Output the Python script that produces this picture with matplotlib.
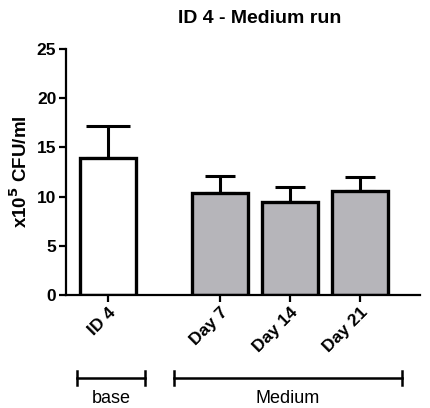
import matplotlib
matplotlib.use("Agg")
import matplotlib.pyplot as plt

categories = ["ID 4", "Day 7", "Day 14", "Day 21"]
means = [13.9, 10.4, 9.4, 10.6]
errors = [3.3, 1.7, 1.6, 1.4]
groups = ["base", "Medium"]
title = "ID 4 - Medium run"
ylabel = "x10$^\\mathbf{5}$ CFU/ml"
yticks = [0, 5, 10, 15, 20, 25]

positions = [0, 1.6, 2.6, 3.6]
colors = ["white", "#b6b5ba", "#b6b5ba", "#b6b5ba"]
capsizes = [16, 11, 11, 11]

fig = plt.figure(figsize=(4.3, 4.08), dpi=100)
ax = fig.add_axes([0.1535, 0.277, 0.823, 0.603])

ax.bar(positions, means, width=0.8, color=colors, edgecolor="black", linewidth=2.4, zorder=2)
for p, m, e, cs in zip(positions, means, errors, capsizes):
    ax.errorbar([p], [m], yerr=[[0], [e]], fmt="none", ecolor="black",
                elinewidth=2.2, capsize=cs, capthick=2.2, zorder=1)

ax.set_xlim(-0.6, 4.46)
ax.set_ylim(0, 25)
ax.set_yticks(yticks)
ax.set_xticks(positions)
ax.set_xticklabels(categories, rotation=45, ha="right", rotation_mode="anchor",
                   fontsize=12.5, fontweight="bold", family="Liberation Sans")
for lab in ax.get_yticklabels():
    lab.set_fontweight("bold")
    lab.set_fontsize(12.5)
    lab.set_family("Liberation Sans")
ax.spines["top"].set_visible(False)
ax.spines["right"].set_visible(False)
ax.spines["left"].set_linewidth(1.6)
ax.spines["bottom"].set_linewidth(1.6)
ax.tick_params(axis="both", width=1.6, length=5, direction="out", pad=2)
ax.set_ylabel(ylabel, fontsize=13.5, fontweight="bold", family="Liberation Sans", labelpad=4)
fig.text(0.605, 0.955, title, ha="center", va="center", fontsize=14, fontweight="bold",
         family="Liberation Sans")

# group brackets (figure coordinates)
def bracket(x0, x1, y, label):
    fig.add_artist(plt.Line2D([x0, x1], [y, y], color="black", lw=1.8, transform=fig.transFigure))
    for xx in (x0, x1):
        fig.add_artist(plt.Line2D([xx, xx], [y - 0.018, y + 0.018], color="black", lw=1.8,
                                  transform=fig.transFigure))
    fig.text((x0 + x1) / 2, y - 0.05, label, ha="center", va="center", fontsize=13,
             family="Liberation Sans")

bracket(77 / 430, 145 / 430, 1 - 378 / 408, groups[0])
bracket(174 / 430, 402 / 430, 1 - 378 / 408, groups[1])

fig.savefig("out.png", dpi=100)
